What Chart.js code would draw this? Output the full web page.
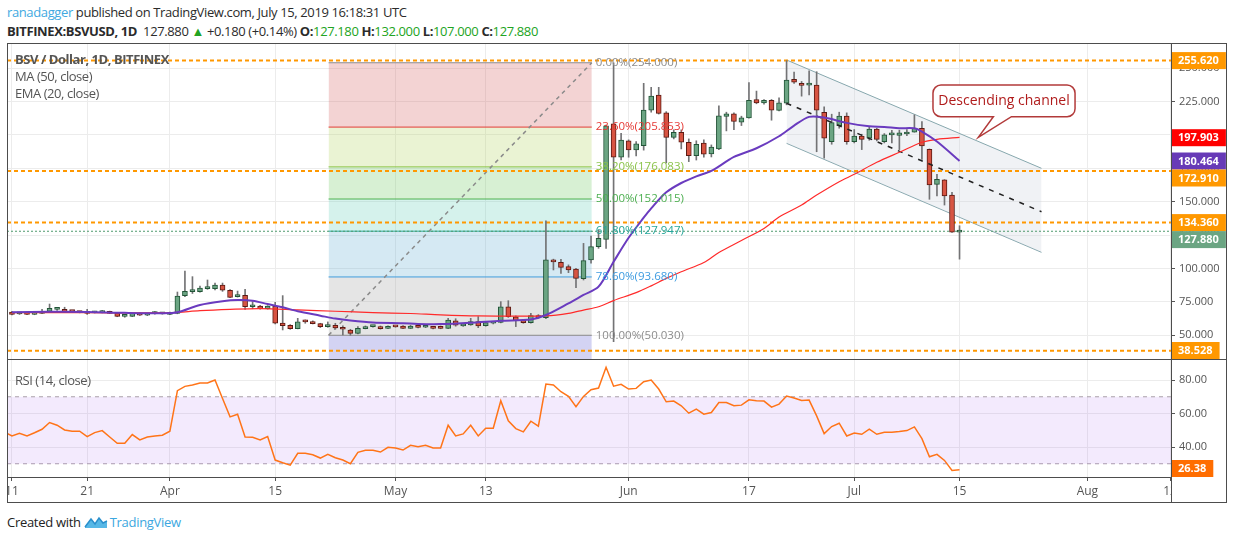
<!DOCTYPE html>
<html><head><meta charset="utf-8">
<script src="https://cdn.jsdelivr.net/npm/chart.js"></script>
<style>
html,body{margin:0;padding:0;background:#fff;width:1234px;height:540px;overflow:hidden;font-family:'Open Sans',sans-serif;}
.abs{position:absolute;white-space:nowrap;}
#h1{left:7px;top:3px;font-size:13px;color:#2b2b2b;line-height:18px;letter-spacing:-0.38px;}
#h2{left:7px;top:22px;font-size:13px;color:#2b2b2b;line-height:18px;letter-spacing:-0.38px;}
.g{color:#22a422;}
.lg{left:15px;font-size:13px;color:#555;line-height:17px;letter-spacing:-0.45px;}
.ln{background:#4d4d4d;position:absolute;}
#foot{left:7px;top:512px;font-size:13px;color:#222;line-height:20px;display:flex;align-items:center;letter-spacing:-0.3px;}
</style></head><body>
<div class="abs" id="h1"><span style="color:#41a9e1">ranadagger</span> published on TradingView.com, July 15, 2019 16:18:31 UTC</div>
<div class="abs" id="h2"><b>BITFINEX:BSVUSD, 1D</b>&nbsp; 127.880 <span class="g">▲</span> +0.180 (+0.14%) <b>O:</b><span class="g">127.180</span> <b>H:</b><span class="g">132.000</span> <b>L:</b><span class="g">107.000</span> <b>C:</b><span class="g">127.880</span></div>

<canvas id="main" class="abs" style="left:7px;top:43px" width="1220" height="316"></canvas>
<canvas id="rsi" class="abs" style="left:7px;top:359px" width="1220" height="144"></canvas>

<div class="abs lg" style="top:51px;font-weight:bold">BSV / Dollar, 1D, BITFINEX</div>
<div class="abs lg" style="top:68px">MA (50, close)</div>
<div class="abs lg" style="top:85px">EMA (20, close)</div>
<div class="abs lg" style="top:372px">RSI (14, close)</div>

<div class="ln" style="left:7px;top:43px;width:1220px;height:1px"></div>
<div class="ln" style="left:7px;top:502px;width:1220px;height:1px"></div>
<div class="ln" style="left:7px;top:43px;width:1px;height:460px"></div>
<div class="ln" style="left:1226px;top:43px;width:1px;height:460px"></div>
<div class="ln" style="left:1171px;top:43px;width:1px;height:460px"></div>
<div class="ln" style="left:7px;top:359px;width:1220px;height:1px"></div>
<div class="ln" style="left:7px;top:477px;width:1164px;height:1px"></div>

<div class="abs" id="foot">Created with&nbsp;<svg width="24" height="14" viewBox="0 0 24 14"><path d="M1 12 L7 4 L11 9 L15 3 L19 8 L23 6 L23 13 L1 13 Z" fill="#56b7e6"/><path d="M1 12 L7 4 L11 9 L15 3 L19 8 L23 6" fill="none" stroke="#2a8fcc" stroke-width="1.5"/></svg><span style="color:#3ca7e0;margin-left:2px">TradingView</span></div>

<script>
// ---------- DATA ----------
const candleDays = Array.from({length:127},(_,i)=>i); // day index, 0 = Mar 11 2019
const opens  = [67.4,66.0,67.2,65.7,66.4,67.9,69.4,69.4,67.9,67.2,67.4,66.9,67.0,67.9,66.4,64.2,64.2,66.4,65.0,66.2,66.0,65.7,66.4,79.7,82.7,82.7,84.9,84.9,87.6,83.7,78.9,79.9,71.4,71.9,69.9,71.9,59.2,57.5,55.0,60.3,60.2,58.7,56.5,57.5,56.0,54.0,51.5,55.0,56.5,56.2,55.2,56.5,56.9,55.2,56.9,56.0,56.4,56.2,55.2,60.9,57.0,57.7,60.2,57.2,59.0,59.7,71.4,63.9,60.9,59.5,64.7,63.2,106.4,104.6,101.4,99.6,92.4,106.4,116.4,121.8,208.2,183.3,195.5,188.8,191.9,218.6,229.8,216.6,198.2,202.0,194.5,184.5,193.8,185.8,189.6,213.8,215.8,209.5,212.8,226.5,224.0,225.8,218.3,223.7,241.6,238.6,237.3,237.3,216.9,194.9,206.9,214.0,194.9,199.2,197.5,204.4,194.9,200.0,199.7,200.7,202.0,205.0,189.2,163.0,166.3,155.0,127.18];
const highs  = [68.0,66.9,67.6,67.4,69.4,73.4,70.3,71.0,68.4,67.5,69.4,68.0,68.6,68.1,66.6,65.2,66.6,66.8,66.0,67.8,66.6,67.3,82.4,98.1,93.9,86.9,91.4,89.1,89.1,84.2,83.1,84.4,75.2,72.4,72.2,74.7,79.7,58.0,62.7,61.5,60.8,59.0,60.0,59.0,57.0,54.5,56.5,57.0,57.5,57.0,57.0,57.0,57.2,57.5,57.3,56.8,56.8,57.0,62.7,62.4,59.0,62.7,64.0,60.2,60.0,75.2,75.9,64.5,61.5,66.5,65.5,135.6,107.0,106.9,102.7,100.1,118.8,124.3,128.8,207.4,254.0,201.2,196.3,195.0,238.6,235.6,235.6,217.4,203.8,203.8,197.0,195.6,196.3,192.5,221.8,217.0,216.5,214.0,239.1,232.8,226.5,226.5,227.8,255.6,247.0,240.0,248.0,247.3,221.0,215.5,217.0,216.5,204.0,200.5,206.0,205.0,201.0,203.5,203.5,204.0,215.0,210.0,189.5,170.5,166.5,157.0,132.0];
const lows   = [65.2,65.6,65.4,65.4,66.2,67.6,68.7,67.5,67.4,66.8,65.6,66.7,66.8,66.2,63.9,63.5,64.0,64.8,64.7,65.8,65.8,65.4,66.1,78.9,81.3,82.3,84.4,83.9,82.9,78.2,78.6,69.4,69.9,69.6,69.6,58.5,54.0,54.5,54.8,59.0,58.5,55.8,56.0,54.5,50.2,50.03,51.0,54.8,56.0,54.6,55.0,56.0,55.0,55.0,55.5,55.7,54.8,54.9,55.0,56.8,56.7,57.5,55.7,56.8,58.5,59.3,63.4,56.5,59.0,59.0,62.8,62.5,98.9,96.4,96.9,85.7,91.4,104.0,115.1,115.1,45.2,181.3,183.3,184.3,188.6,217.0,215.6,179.0,197.0,189.5,180.0,181.2,183.3,183.5,189.0,203.0,204.0,207.0,212.5,223.3,223.0,211.0,218.0,222.5,238.5,229.0,230.0,187.4,182.5,193.0,205.0,193.0,194.0,189.0,196.0,195.5,194.0,194.0,189.0,199.5,202.0,181.7,151.8,154.3,147.5,127.0,107.0];
const closes = [65.7,66.7,65.7,67.0,67.9,70.2,69.6,67.7,67.8,67.0,66.4,67.7,67.9,66.4,64.2,64.7,66.4,65.0,65.7,66.4,66.2,67.0,79.4,82.9,83.9,85.4,85.2,87.6,83.7,78.4,80.2,71.4,71.7,69.9,71.9,59.0,57.2,55.0,60.0,60.0,58.7,56.5,57.5,55.5,54.5,51.5,55.2,56.5,56.7,55.0,56.7,56.3,55.2,56.9,55.9,56.4,55.2,55.2,61.4,57.5,58.5,60.2,57.0,59.5,59.7,71.4,63.9,60.9,59.5,64.7,63.2,106.4,104.9,100.9,98.9,92.6,105.9,116.4,122.6,206.7,183.3,196.2,188.8,193.3,218.6,229.1,216.1,198.2,202.0,194.5,184.5,193.0,185.6,190.8,214.3,215.8,210.0,212.8,225.8,224.0,225.8,218.5,224.0,241.0,239.4,237.1,237.6,218.6,197.5,209.2,214.0,194.9,199.2,196.7,204.4,196.7,200.0,200.3,201.5,202.0,205.0,191.7,162.5,166.8,154.3,127.18,127.88];

const maDays  = [0,10,21,25,29,33,38,43,48,53,57,62,67,71,74,76,78,80,83,85,87,89,92,94,97,100,102,105,107,110,112,115,118,121,123,126];
const maVals  = [67.0,67.0,66.8,68.4,69.4,70.0,69.0,68.0,67.0,66.3,65.3,64.5,64.4,64.5,66.4,68.9,71.4,76.0,81.9,87.0,92.6,97.6,104.5,112,121,130,138.5,147.5,155,165,170.5,179.5,187,194.5,196.7,198.2];
const emaDays = [0,5,10,15,20,22,25,28,30,32,34,36,38,41,43,45,48,52,54,57,61,65,69,71,74,76,78,80,82,84,85,87,89,91,93,96,99,102,104,106,108,111,114,116,118,120,121,123,126];
const emaVals = [67.3,67.6,67.5,66.8,66.5,67.2,72.7,75.5,76.4,75.9,73.4,71.0,68.0,64.7,62.5,61.0,59.5,59.0,58.5,58.4,59.4,60.9,61.9,65.2,73.9,80.2,86.4,105,123,138,145,157,164,169,173,183.5,190,199,207,213.5,213,209,206.5,206,205,204.9,202.5,195,180.5];

const rsiDays = Array.from({length:128},(_,i)=>i-1);
const rsiVals = [49,46.6,48.2,46.6,48.5,50.6,54.6,53.0,50.2,49.4,49.4,46.2,48.6,49.8,46.0,42.2,42.2,47.4,44.2,46.0,46.6,47.0,49.4,73.6,76.2,77.0,78.2,78.2,80.0,69.0,58.0,59.6,46.0,45.8,44.2,46.2,32.2,30.6,29.2,36.2,36.2,35.4,33.4,35.6,33.6,32.2,30.0,36.8,38.0,38.0,37.0,39.8,39.4,38.2,41.0,40.2,41.0,39.4,39.4,53.0,46.6,47.8,53.0,46.6,51.2,51.2,67.6,55.6,51.0,49.0,55.4,52.4,77.6,77.0,73.0,70.2,64.0,70.2,74.2,75.2,87.6,76.3,77.4,74.6,75.0,79.0,80.0,74.6,67.0,67.4,64.6,60.2,62.6,59.6,60.6,66.6,66.6,64.6,65.0,68.2,67.6,67.4,63.8,65.6,70.4,69.2,67.8,68.0,58.6,48.0,52.2,54.2,46.6,48.4,47.6,50.6,47.6,48.8,48.8,49.2,49.8,52.0,45.0,34.2,35.6,32.0,26.0,26.38];

const tickDays   = [0,10,21,35,51,63,82,98,112,126,143,154];
const tickLabels = ['11','21','Apr','15','May','13','Jun','17','Jul','15','Aug','12'];
const priceTicks = [50,75,100,125,150,175,200,225,250];
const rsiTicks   = [40,60,80];

const fibRange  = [42.1, 77.1];
const fibLevels = [0,0.236,0.382,0.5,0.618,0.786,1];
const fibPrices = [254,205.853,176.083,152.015,127.947,93.68,50.03];
const trendLine = [50.03, 254];

const channelDays = [103.0, 136.9];
const channelTop  = [256.1, 175.0];
const channelMid  = [223.7, 142.5];
const channelBot  = [193.7, 112.1];

const hLevels   = [255.62, 172.91, 134.36, 38.528];
const lastPrice = 127.88;
const maLast = 197.903, emaLast = 180.464;
const rsiLast = 26.38;
const rsiBand = [70, 30];

const calloutText = 'Descending channel';
const calloutBox  = [122.47, 141.36, 237.35, 213.6];  // day-left, day-right, price-top, price-bottom
const calloutTail = [130.5, 132.9, 128.5, 198.2];     // base day 1, base day 2, tip day, tip price

// ---------- VIEW ----------
const XMIN = -0.66, XMAX = 154.12;
const YMIN = 32.26, YMAX = 268.79;
const RMIN = 22.09, RMAX = 92.54;

Chart.defaults.font.family = "'Open Sans', sans-serif";
const GRID = '#ececec';
const fibLineColors = ['#8c8c8c','#e53935','#8bc34a','#4caf50','#26a69a','#3d9be0','#8c8c8c'];
const fibFillColors = ['rgba(207,79,79,0.25)','rgba(171,207,79,0.25)','rgba(95,195,79,0.25)','rgba(87,203,179,0.25)','rgba(87,167,207,0.25)','rgba(151,151,151,0.25)','rgba(79,79,207,0.25)'];

const seg = (xs, ys) => xs.map((x,i)=>({x, y:ys[i]}));
const up = closes.map((c,i)=> c >= opens[i]);
const noPad = s => { s.paddingTop = 0; s.paddingBottom = 0; s.paddingLeft = 0; s.paddingRight = 0; };

const datasets = [];
datasets.push({type:'bar', label:'body', order:2, grouped:false, barThickness:5, minBarLength:2,
  data: candleDays.map((d,i)=>({x:d, y:[opens[i], closes[i]]})),
  backgroundColor: up.map(u=> u ? '#6ba583' : '#d75442'),
  borderColor: up.map(u=> u ? '#225437' : '#5b1a13'),
  borderWidth:1, borderSkipped:false});
datasets.push({type:'bar', label:'wick', order:3, grouped:false, barThickness:1,
  data: candleDays.map((d,i)=>({x:d, y:[lows[i], highs[i]]})),
  backgroundColor:'#737375', borderWidth:0});
datasets.push({type:'line', order:1, data: seg(emaDays, emaVals), borderColor:'#6a3bbf', borderWidth:2, tension:0.3, pointRadius:0});
datasets.push({type:'line', order:1, data: seg(maDays, maVals), borderColor:'#ff2a2a', borderWidth:1.2, tension:0.3, pointRadius:0});
datasets.push({type:'line', order:1, data: seg(channelDays, channelMid), borderColor:'#222', borderWidth:1.5, borderDash:[5,6], pointRadius:0});
hLevels.forEach(v=> datasets.push({type:'line', order:4, data: seg([XMIN,XMAX],[v,v]), borderColor:'#ff9800', borderWidth:2, borderDash:[4,3], pointRadius:0}));
datasets.push({type:'line', order:4, data: seg([XMIN,XMAX],[lastPrice,lastPrice]), borderColor:'#4f9a6e', borderWidth:1, borderDash:[2,2], pointRadius:0});
datasets.push({type:'line', order:50, data: seg(channelDays, channelTop), borderColor:'#86a7ad', borderWidth:1, pointRadius:0, fill:'+1', backgroundColor:'rgba(195,203,215,0.25)'});
datasets.push({type:'line', order:51, data: seg(channelDays, channelBot), borderColor:'#86a7ad', borderWidth:1, pointRadius:0});
datasets.push({type:'line', order:60, data: seg(fibRange, trendLine), borderColor:'#8a8a8a', borderWidth:1.5, borderDash:[4,4], pointRadius:0});
fibPrices.forEach((p,i)=> datasets.push({type:'line', order:70+i, data: seg(fibRange,[p,p]), borderColor:fibLineColors[i], borderWidth:1, pointRadius:0,
  fill: i < fibPrices.length-1 ? {value: fibPrices[i+1]} : 'start', backgroundColor: fibFillColors[i]}));

const tagPlugin = {
  id:'tags',
  afterDraw(chart, args, o){
    const {ctx, chartArea, scales:{y}} = chart;
    const h = 17;
    const items = o.values.map((v,i)=>({v, c:o.colors[i], py:y.getPixelForValue(v)})).sort((a,b)=>a.py-b.py);
    let prev = -1e9;
    ctx.save();
    ctx.font = "bold 11px 'Open Sans', sans-serif";
    ctx.textBaseline = 'middle';
    items.forEach(it=>{
      let cy = Math.max(it.py, prev + h);
      cy = Math.min(cy, chartArea.bottom - h/2);
      prev = cy;
      const txt = it.v.toFixed(o.decimals);
      const w = Math.min(ctx.measureText(txt).width + 13, chart.width - chartArea.right - 2);
      ctx.fillStyle = it.c;
      ctx.fillRect(chartArea.right + 1, cy - h/2, w, h);
      ctx.fillStyle = '#fff';
      ctx.fillText(txt, chartArea.right + 7, cy + 0.5);
    });
    ctx.restore();
  }
};

const annoPlugin = {
  id:'anno',
  afterDatasetsDraw(chart){
    const {ctx, scales:{x, y}} = chart;
    ctx.save();
    ctx.font = "11.5px 'Open Sans', sans-serif";
    ctx.textBaseline = 'middle';
    const lx = x.getPixelForValue(fibRange[1]) + 4;
    fibPrices.forEach((p,i)=>{
      ctx.fillStyle = fibLineColors[i];
      ctx.fillText((fibLevels[i]*100).toFixed(2)+'%('+p.toFixed(3)+')', lx, y.getPixelForValue(p));
    });
    const L = x.getPixelForValue(calloutBox[0]), R = x.getPixelForValue(calloutBox[1]);
    const T = y.getPixelForValue(calloutBox[2]), B = y.getPixelForValue(calloutBox[3]);
    const b1 = x.getPixelForValue(calloutTail[0]), b2 = x.getPixelForValue(calloutTail[1]);
    const tx = x.getPixelForValue(calloutTail[2]), ty = y.getPixelForValue(calloutTail[3]);
    const r = 8;
    ctx.beginPath();
    ctx.moveTo(L+r, T); ctx.lineTo(R-r, T); ctx.arcTo(R, T, R, T+r, r);
    ctx.lineTo(R, B-r); ctx.arcTo(R, B, R-r, B, r);
    ctx.lineTo(b2, B); ctx.lineTo(tx, ty); ctx.lineTo(b1, B);
    ctx.lineTo(L+r, B); ctx.arcTo(L, B, L, B-r, r);
    ctx.lineTo(L, T+r); ctx.arcTo(L, T, L+r, T, r);
    ctx.closePath();
    ctx.fillStyle = '#fff'; ctx.fill();
    ctx.strokeStyle = '#b23a3a'; ctx.lineWidth = 1.5; ctx.stroke();
    ctx.fillStyle = '#b01c1c';
    ctx.font = "14px 'Open Sans', sans-serif";
    ctx.textAlign = 'center';
    ctx.fillText(calloutText, (L+R)/2, (T+B)/2 + 0.5);
    ctx.restore();
  }
};

new Chart(document.getElementById('main'), {
  type:'bar',
  data:{datasets},
  options:{
    responsive:false, animation:false, devicePixelRatio:1,
    layout:{padding:0, autoPadding:false},
    plugins:{legend:{display:false}, tooltip:{enabled:false},
      tags:{values:[hLevels[0], maLast, emaLast, hLevels[1], hLevels[2], lastPrice, hLevels[3]],
            colors:['#ff9800','#ff0000','#673ab7','#ff9800','#ff9800','#6ba583','#ff9800'], decimals:3}},
    scales:{
      x:{type:'linear', min:XMIN, max:XMAX, offset:false, bounds:'data',
         afterBuildTicks:s=>{ s.ticks = tickDays.map(v=>({value:v})); },
         ticks:{display:false}, grid:{color:GRID, drawTicks:false, offset:false}, border:{display:false},
         afterFit:s=>{ s.height = 0; noPad(s); }},
      y:{type:'linear', position:'right', min:YMIN, max:YMAX, beginAtZero:false, bounds:'data',
         afterBuildTicks:s=>{ s.ticks = priceTicks.map(v=>({value:v})); },
         ticks:{color:'#555', font:{size:11}, padding:4, callback:v=>Number(v).toFixed(3)},
         grid:{color:GRID, tickColor:'#555', tickLength:4}, border:{display:false},
         afterFit:s=>{ s.width = 56; noPad(s); }}
    }
  },
  plugins:[annoPlugin, tagPlugin]
});

const clipPlugin = {
  id:'clipAxis',
  afterDraw(chart){
    const {ctx, chartArea} = chart;
    ctx.save();
    ctx.fillStyle = '#fff';
    ctx.fillRect(chartArea.right + 1, chartArea.bottom + 1, chart.width - chartArea.right, chart.height - chartArea.bottom);
    ctx.restore();
  }
};

new Chart(document.getElementById('rsi'), {
  type:'line',
  data:{datasets:[
    {order:1, data: seg(rsiDays, rsiVals), borderColor:'#ff7418', borderWidth:1.5, pointRadius:0, tension:0},
    {order:5, data: seg([XMIN,XMAX],[rsiBand[0],rsiBand[0]]), borderColor:'#aaa0aa', borderWidth:1, borderDash:[4,4], pointRadius:0,
      fill:{value:rsiBand[1]}, backgroundColor:'rgba(155,80,240,0.12)'},
    {order:5, data: seg([XMIN,XMAX],[rsiBand[1],rsiBand[1]]), borderColor:'#aaa0aa', borderWidth:1, borderDash:[4,4], pointRadius:0}
  ]},
  options:{
    responsive:false, animation:false, devicePixelRatio:1,
    layout:{padding:0, autoPadding:false},
    plugins:{legend:{display:false}, tooltip:{enabled:false},
      tags:{values:[rsiLast], colors:['#ff6d00'], decimals:2}},
    scales:{
      x:{type:'linear', min:XMIN, max:XMAX, offset:false, bounds:'data',
         afterBuildTicks:s=>{ s.ticks = tickDays.map(v=>({value:v})); },
         ticks:{autoSkip:false, maxRotation:0, color:'#555', font:{size:12}, padding:3, callback:(v,i)=>tickLabels[i]},
         grid:{color:GRID, tickColor:'#555', tickLength:4}, border:{display:false},
         afterFit:s=>{ s.height = 26; noPad(s); }},
      y:{type:'linear', position:'right', min:RMIN, max:RMAX, beginAtZero:false, bounds:'data',
         afterBuildTicks:s=>{ s.ticks = rsiTicks.map(v=>({value:v})); },
         ticks:{color:'#555', font:{size:11}, padding:4, callback:v=>Number(v).toFixed(2)},
         grid:{color:GRID, tickColor:'#555', tickLength:4}, border:{display:false},
         afterFit:s=>{ s.width = 56; noPad(s); }}
    }
  },
  plugins:[clipPlugin, tagPlugin]
});
</script>
</body></html>
